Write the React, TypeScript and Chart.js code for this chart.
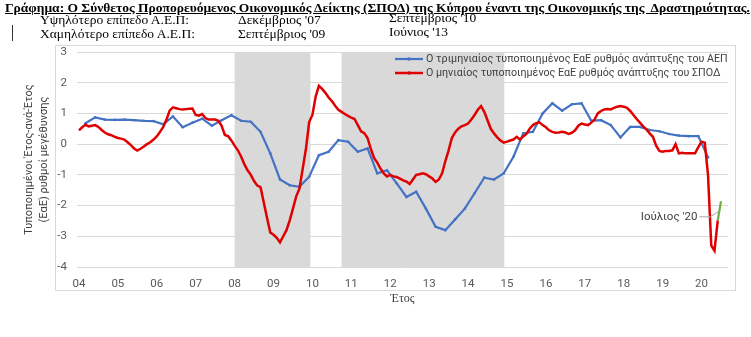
import React, { useEffect, useRef } from "react";
import { Chart, registerables } from "chart.js";

Chart.register(...registerables);

// ---- Data ----
const tickYears = [2004, 2005, 2006, 2007, 2008, 2009, 2010, 2011, 2012, 2013, 2014, 2015, 2016, 2017, 2018, 2019, 2020];
const tickLabels = ["04", "05", "06", "07", "08", "09", "10", "11", "12", "13", "14", "15", "16", "17", "18", "19", "20"];

// Quarterly standardised YoY GDP growth, Q1 2004 .. Q1 2020 (quarter-end months)
const gdpQuarterly = [
  0.68, 0.87, 0.8, 0.79,
  0.8, 0.78, 0.76, 0.75,
  0.65, 0.9, 0.55, 0.7,
  0.83, 0.6, 0.78, 0.94,
  0.76, 0.73, 0.4, -0.3,
  -1.15, -1.34, -1.39, -1.06,
  -0.36, -0.25, 0.13, 0.08,
  -0.25, -0.14, -0.95, -0.85,
  -1.28, -1.72, -1.55, -2.1,
  -2.69, -2.8, -2.45, -2.1,
  -1.6, -1.09, -1.15, -0.95,
  -0.41, 0.35, 0.4, 1.0,
  1.33, 1.09, 1.3, 1.33,
  0.76, 0.78, 0.62, 0.22,
  0.56, 0.56, 0.46, 0.42,
  0.33, 0.28, 0.26, 0.26,
  -0.43,
];

// Monthly standardised YoY growth of the CLI, Jan 2004 .. Jun 2020
const cliMonthly = [
  0.45, 0.55, 0.63, 0.58, 0.6, 0.62, 0.56, 0.46, 0.38, 0.32, 0.29, 0.24,
  0.2, 0.18, 0.15, 0.06, -0.03, -0.14, -0.21, -0.15, -0.08, 0.0, 0.06, 0.15,
  0.25, 0.4, 0.56, 0.8, 1.1, 1.2, 1.17, 1.14, 1.13, 1.14, 1.15, 1.16,
  0.95, 0.93, 0.98, 0.85, 0.8, 0.8, 0.8, 0.76, 0.6, 0.3, 0.26, 0.12,
  -0.05, -0.2, -0.4, -0.65, -0.85, -1.0, -1.2, -1.35, -1.4, -1.9, -2.4, -2.88,
  -2.95, -3.05, -3.2, -3.0, -2.8, -2.48, -2.1, -1.7, -1.45, -0.8, -0.15, 0.72,
  0.95, 1.55, 1.9, 1.8, 1.67, 1.52, 1.4, 1.25, 1.12, 1.05, 0.98, 0.92,
  0.86, 0.82, 0.62, 0.42, 0.36, 0.2, -0.15, -0.45, -0.6, -0.8, -0.95, -1.05,
  -1.0, -1.05, -1.07, -1.12, -1.18, -1.22, -1.3, -1.15, -1.0, -0.98, -0.95, -0.98,
  -1.05, -1.12, -1.23, -1.15, -0.95, -0.55, -0.2, 0.2, 0.38, 0.5, 0.58, 0.62,
  0.67, 0.8, 0.95, 1.12, 1.24, 1.05, 0.78, 0.5, 0.35, 0.22, 0.12, 0.05,
  0.08, 0.12, 0.15, 0.24, 0.15, 0.25, 0.33, 0.5, 0.62, 0.68, 0.71, 0.62,
  0.55, 0.45, 0.4, 0.37, 0.38, 0.4, 0.38, 0.33, 0.37, 0.45, 0.6, 0.67,
  0.64, 0.62, 0.7, 0.8, 1.0, 1.08, 1.13, 1.14, 1.13, 1.18, 1.22, 1.24,
  1.22, 1.18, 1.08, 0.95, 0.82, 0.7, 0.58, 0.48, 0.35, 0.24, -0.05, -0.22,
  -0.25, -0.22, -0.22, -0.2, 0.0, -0.3, -0.28, -0.3, -0.3, -0.3, -0.3, -0.1,
  0.08, 0.05, -1.0, -3.3, -3.47, -2.48,
];

// Jun 2020 -> Jul 2020 extension (green)
const julyMonths = [2020 + 5 / 12, 2020 + 6 / 12];
const julyValues = [-2.48, -1.86];

// Recession shading (start, end in years)
const recessionBands = [
  [2008.0, 2009.95],
  [2010.75, 2014.93],
];

const seriesLabels = [
  "Ο τριμηνιαίος τυποποιημένος ΕαΕ ρυθμός ανάπτυξης του ΑΕΠ",
  "Ο μηνιαίος τυποποιημένος ΕαΕ ρυθμός ανάπτυξης του ΣΠΟΔ",
];
const annotationText = "Ιούλιος '20";
const titleText =
  "Γράφημα: Ο Σύνθετος Προπορευόμενος Οικονομικός Δείκτης (ΣΠΟΔ) της Κύπρου έναντι της Οικονομικής της  Δραστηριότητας.";
const headerRows = [
  ["Υψηλότερο επίπεδο Α.Ε.Π:", "Δεκέμβριος '07", "Σεπτέμβριος '10"],
  ["Χαμηλότερο επίπεδο Α.Ε.Π:", "Σεπτέμβριος '09", "Ιούνιος '13"],
];
const yTitle = ["Τυποποιημένοι Έτος-ανά-Έτος", "(ΕαΕ) ρυθμοί μεγέθυνσης"];
const xTitle = "Έτος";

const BLUE = "#4472C4";
const RED = "#E00000";
const GREEN = "#70AD47";
const FONT = "Roboto, 'Noto Sans', sans-serif";
const SERIF = "'Liberation Serif', 'DejaVu Serif', serif";

const gdpPoints = gdpQuarterly.map((v, i) => ({ x: 2004 + (2 + 3 * i) / 12, y: v }));
const cliPoints = cliMonthly.map((v, i) => ({ x: 2004 + i / 12, y: v }));
const julyPoints = julyValues.map((v, i) => ({ x: julyMonths[i], y: v }));

const framePlugin = {
  id: "frame",
  beforeDraw(chart: any) {
    const ctx = chart.ctx;
    ctx.save();
    ctx.fillStyle = "#ffffff";
    ctx.fillRect(0, 0, chart.width, chart.height);
    ctx.strokeStyle = "#d9d9d9";
    ctx.lineWidth = 1;
    ctx.strokeRect(55.5, 45.5, 680, 245);
    ctx.restore();
  },
};

const bandsPlugin = {
  id: "bands",
  beforeDatasetsDraw(chart: any) {
    const { ctx, chartArea, scales } = chart;
    ctx.save();
    ctx.fillStyle = "#d9d9d9";
    for (const [a, b] of recessionBands) {
      const x0 = scales.x.getPixelForValue(a);
      const x1 = scales.x.getPixelForValue(b);
      ctx.fillRect(x0, chartArea.top, x1 - x0, chartArea.bottom - chartArea.top);
    }
    ctx.restore();
  },
};

const legendPlugin = {
  id: "customLegend",
  afterDatasetsDraw(chart: any) {
    const { ctx, chartArea, scales } = chart;
    ctx.save();
    const colors = [BLUE, RED];
    const lx = chartArea.right - 333;
    ctx.font = `10.7px ${FONT}`;
    ctx.textBaseline = "middle";
    ctx.textAlign = "left";
    seriesLabels.forEach((label, i) => {
      const y = chartArea.top + 7 + i * 14;
      ctx.strokeStyle = colors[i];
      ctx.lineWidth = i === 0 ? 2.2 : 2.5;
      ctx.beginPath();
      ctx.moveTo(lx, y);
      ctx.lineTo(lx + 28, y);
      ctx.stroke();
      ctx.fillStyle = colors[i];
      ctx.beginPath();
      ctx.arc(lx + 14, y, 1.8, 0, Math.PI * 2);
      ctx.fill();
      ctx.fillStyle = "#404040";
      ctx.fillText(label, lx + 31, y + 0.5);
    });

    // annotation for July 2020
    const mx = (scales.x.getPixelForValue(julyMonths[0]) + scales.x.getPixelForValue(julyMonths[1])) / 2;
    const my = (scales.y.getPixelForValue(julyValues[0]) + scales.y.getPixelForValue(julyValues[1])) / 2;
    const ty = my + 6;
    ctx.font = `11.5px ${FONT}`;
    ctx.strokeStyle = "#a6a6a6";
    ctx.lineWidth = 1;
    ctx.beginPath();
    ctx.moveTo(mx - 20, ty);
    ctx.lineTo(mx - 9, ty);
    ctx.lineTo(mx, my);
    ctx.stroke();
    ctx.fillStyle = "#404040";
    ctx.textAlign = "right";
    ctx.fillText(annotationText, mx - 22, ty);
    ctx.restore();
  },
};

export default function App() {
  const ref = useRef<HTMLCanvasElement | null>(null);

  useEffect(() => {
    if (!ref.current) return;
    const chart = new Chart(ref.current, {
      type: "line",
      data: {
        datasets: [
          {
            label: seriesLabels[0],
            data: gdpPoints,
            borderColor: BLUE,
            backgroundColor: BLUE,
            borderWidth: 2.2,
            pointRadius: 1.3,
            pointBorderWidth: 0,
            tension: 0,
            order: 2,
          },
          {
            label: seriesLabels[1],
            data: cliPoints,
            borderColor: RED,
            backgroundColor: RED,
            borderWidth: 2.5,
            pointRadius: 0,
            tension: 0,
            order: 1,
          },
          {
            label: "July 2020",
            data: julyPoints,
            borderColor: GREEN,
            backgroundColor: GREEN,
            borderWidth: 2.2,
            pointRadius: 0,
            tension: 0,
            order: 0,
          },
        ],
      },
      options: {
        responsive: false,
        animation: false,
        devicePixelRatio: 1,
        parsing: false as any,
        layout: { padding: { top: 52, right: 23, left: 0, bottom: 0 } },
        plugins: {
          legend: { display: false },
          tooltip: { enabled: false },
        },
        scales: {
          x: {
            type: "linear",
            min: 2003.95,
            max: 2020.68,
            afterBuildTicks: (scale: any) => {
              scale.ticks = tickYears.map((v) => ({ value: v }));
            },
            afterFit: (scale: any) => {
              scale.height = 70;
            },
            ticks: {
              autoSkip: false,
              maxRotation: 0,
              padding: 10,
              color: "#595959",
              font: { family: FONT, size: 11.5 },
              callback: (v: any) => {
                const idx = tickYears.indexOf(Number(v));
                return idx >= 0 ? tickLabels[idx] : "";
              },
            },
            grid: { display: false, drawTicks: false },
            border: { display: false },
            title: {
              display: true,
              text: xTitle,
              color: "#404040",
              font: { family: SERIF, size: 12 },
              padding: { top: 0, bottom: 31 },
            },
          },
          y: {
            type: "linear",
            min: -4,
            max: 3,
            afterFit: (scale: any) => {
              scale.width = 77;
            },
            ticks: {
              stepSize: 1,
              padding: 10,
              color: "#595959",
              font: { family: FONT, size: 11.5 },
              callback: (v: any) => String(v),
            },
            grid: { color: "#d9d9d9", lineWidth: 1, drawTicks: false },
            border: { display: false },
            title: {
              display: true,
              text: yTitle,
              color: "#404040",
              font: { family: FONT, size: 11, lineHeight: 1.35 },
              padding: { top: 22, bottom: 0 },
            },
          },
        },
      },
      plugins: [framePlugin, bandsPlugin, legendPlugin],
    });
    return () => chart.destroy();
  }, []);

  return (
    <div style={{ position: "fixed", left: 0, top: 0, width: 751, height: 337, background: "#fff", overflow: "hidden" }}>
      <canvas ref={ref} width={751} height={337} style={{ position: "absolute", left: 0, top: 0, width: 751, height: 337 }} />
      <div
        style={{
          position: "absolute",
          left: 5,
          top: 0,
          whiteSpace: "pre",
          fontFamily: SERIF,
          fontWeight: "bold",
          fontSize: 13.5,
          lineHeight: "15px",
          textDecoration: "underline",
          color: "#000",
        }}
      >
        {titleText}
      </div>
      <div style={{ position: "absolute", left: 12, top: 25, width: 1, height: 16, background: "#333" }} />
      {headerRows.map((row, r) =>
        row.map((cell, c) => (
          <div
            key={`${r}-${c}`}
            style={{
              position: "absolute",
              left: [40, 238, 389][c],
              top: (c === 2 ? 11 : 13) + r * 14,
              whiteSpace: "pre",
              fontFamily: SERIF,
              fontSize: 13.5,
              lineHeight: "14px",
              color: "#000",
            }}
          >
            {cell}
          </div>
        ))
      )}
    </div>
  );
}
